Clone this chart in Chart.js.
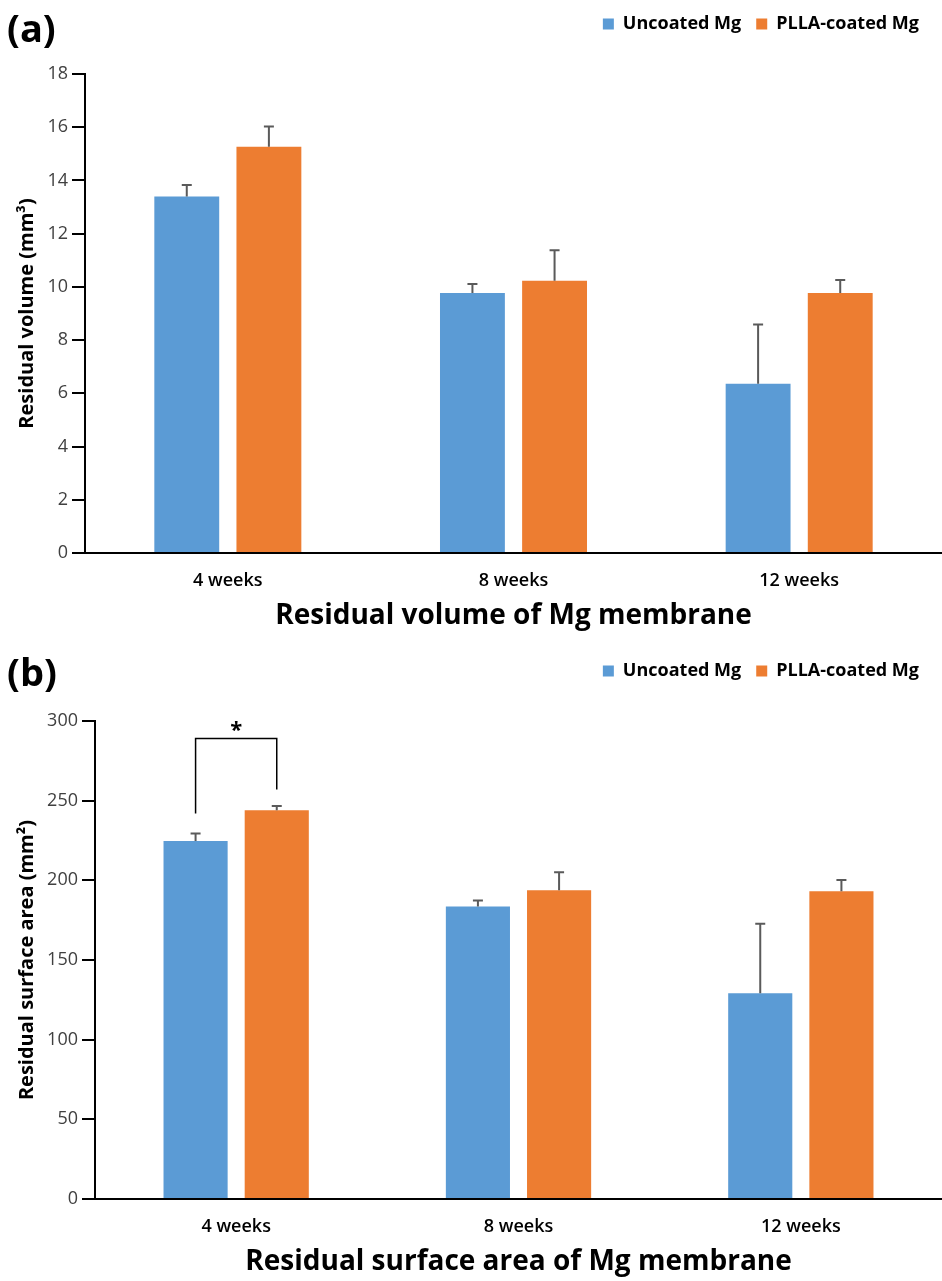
<!DOCTYPE html>
<html>
<head>
<meta charset="utf-8">
<script src="https://cdn.jsdelivr.net/npm/chart.js@4.4.1/dist/chart.umd.min.js"></script>
<style>
body { margin: 0; background: #fff; width: 942px; height: 1281px; overflow: hidden; position: relative; font-family: 'Open Sans', sans-serif; }
.panel { position: absolute; left: 0; width: 942px; }
.etiqueta { position: absolute; left: 7px; font-weight: 700; font-size: 38px; line-height: 1; color: #000; z-index: 2; }
</style>
</head>
<body>
<div class="panel" style="top:0;height:640px"><canvas id="grafico-volumen"></canvas></div>
<div class="panel" style="top:641px;height:640px"><canvas id="grafico-superficie"></canvas></div>
<div class="etiqueta" style="top:8px">(a)</div>
<div class="etiqueta" style="top:652px">(b)</div>
<script>
const semanas = ['4 weeks', '8 weeks', '12 weeks'];
const series = ['Uncoated Mg', 'PLLA-coated Mg'];

const volumenSinRecubrir = [13.4, 9.77, 6.36];
const volumenSinRecubrirDE = [0.43, 0.34, 2.23];
const volumenPLLA = [15.27, 10.23, 9.77];
const volumenPLLADE = [0.76, 1.15, 0.49];
const ticksVolumen = [0, 2, 4, 6, 8, 10, 12, 14, 16, 18];

const superficieSinRecubrir = [224.7, 183.6, 129.1];
const superficieSinRecubrirDE = [4.7, 3.8, 43.7];
const superficiePLLA = [244.0, 193.7, 193.1];
const superficiePLLADE = [2.7, 11.3, 7.1];
const ticksSuperficie = [0, 50, 100, 150, 200, 250, 300];

const AZUL = '#5B9BD5';
const NARANJA = '#ED7D31';

Chart.defaults.font.family = "'Open Sans', sans-serif";
Chart.defaults.color = '#000';
Chart.defaults.animation = false;

// barras de error (solo hacia arriba)
const barrasError = {
    id: 'barrasError',
    afterDatasetsDraw(chart) {
        const { ctx, scales: { y } } = chart;
        ctx.save();
        ctx.strokeStyle = '#5a5a5a';
        ctx.lineWidth = 2;
        chart.data.datasets.forEach((ds, i) => {
            chart.getDatasetMeta(i).data.forEach((barra, j) => {
                const arriba = y.getPixelForValue(ds.data[j] + ds.errores[j]);
                ctx.beginPath();
                ctx.moveTo(barra.x, barra.y);
                ctx.lineTo(barra.x, arriba);
                ctx.moveTo(barra.x - 5, arriba);
                ctx.lineTo(barra.x + 5, arriba);
                ctx.stroke();
            });
        });
        ctx.restore();
    }
};

// corchete de significancia
const corchete = {
    id: 'corchete',
    afterDatasetsDraw(chart, args, opts) {
        if (!opts || opts.grupo === undefined) return;
        const { ctx, scales: { y } } = chart;
        const xIzq = chart.getDatasetMeta(0).data[opts.grupo].x;
        const xDer = chart.getDatasetMeta(1).data[opts.grupo].x;
        const yTope = y.getPixelForValue(opts.alto);
        ctx.save();
        ctx.strokeStyle = '#000';
        ctx.lineWidth = 1.5;
        ctx.beginPath();
        ctx.moveTo(xIzq, y.getPixelForValue(opts.izq));
        ctx.lineTo(xIzq, yTope);
        ctx.lineTo(xDer, yTope);
        ctx.lineTo(xDer, y.getPixelForValue(opts.der));
        ctx.stroke();
        ctx.font = "bold 22px 'Open Sans', sans-serif";
        ctx.textAlign = 'center';
        ctx.textBaseline = 'alphabetic';
        ctx.fillStyle = '#000';
        ctx.fillText(opts.texto, (xIzq + xDer) / 2, yTope - 2);
        ctx.restore();
    }
};

const ajusteLeyenda = {
    id: 'ajusteLeyenda',
    beforeInit(chart) {
        const fitOriginal = chart.legend.fit;
        chart.legend.fit = function () {
            fitOriginal.call(this);
            this.height += 31;
        };
    },
    afterLayout(chart) {
        chart.legend.right -= 8;
    }
};

function crearGrafico(id, cfg) {
    const ctx = document.getElementById(id);
    return new Chart(ctx, {
        type: 'bar',
        data: {
            labels: semanas,
            datasets: [
                { label: series[0], data: cfg.sinRecubrir, errores: cfg.sinRecubrirDE, backgroundColor: AZUL, borderWidth: 0 },
                { label: series[1], data: cfg.plla, errores: cfg.pllaDE, backgroundColor: NARANJA, borderWidth: 0 }
            ]
        },
        options: {
            responsive: true,
            maintainAspectRatio: false,
            categoryPercentage: 0.575,
            barPercentage: 0.79,
            layout: { padding: { top: cfg.padTop, bottom: cfg.padBottom, left: 0, right: 0 } },
            plugins: {
                legend: {
                    position: 'top',
                    align: 'end',
                    labels: {
                        boxWidth: 11,
                        boxHeight: 11,
                        padding: 15,
                        color: '#000',
                        font: { size: 18, weight: 'bold' }
                    }
                },
                tooltip: { enabled: false },
                corchete: cfg.corchete || {}
            },
            scales: {
                x: {
                    grid: { display: false, drawTicks: false },
                    border: { display: true, color: '#000', width: 2 },
                    ticks: { color: '#000', padding: 17, font: { size: 18, weight: '600' } },
                    title: { display: true, text: cfg.tituloX, color: '#000', padding: 0, font: { size: 28, weight: 'bold' } },
                    afterFit: (s) => { s.height = 80; }
                },
                y: {
                    min: 0,
                    max: cfg.ticks[cfg.ticks.length - 1],
                    afterBuildTicks: (s) => { s.ticks = cfg.ticks.map(v => ({ value: v })); },
                    grid: { display: true, drawOnChartArea: false, drawTicks: true, tickLength: 13, color: '#000', lineWidth: 2 },
                    border: { display: true, color: '#000', width: 2 },
                    ticks: { color: '#404040', padding: 4, font: { size: 18 } },
                    title: { display: true, text: cfg.tituloY, color: '#000', padding: { top: 15, bottom: 0 }, font: { size: 20, weight: 'bold' } },
                    afterFit: (s) => { s.width = cfg.anchoY; }
                }
            }
        },
        plugins: [barrasError, corchete, ajusteLeyenda]
    });
}

crearGrafico('grafico-volumen', {
    sinRecubrir: volumenSinRecubrir,
    sinRecubrirDE: volumenSinRecubrirDE,
    plla: volumenPLLA,
    pllaDE: volumenPLLADE,
    ticks: ticksVolumen,
    tituloX: 'Residual volume of Mg membrane',
    tituloY: 'Residual volume (mm³)',
    anchoY: 85,
    padTop: 0,
    padBottom: 7
});

crearGrafico('grafico-superficie', {
    sinRecubrir: superficieSinRecubrir,
    sinRecubrirDE: superficieSinRecubrirDE,
    plla: superficiePLLA,
    pllaDE: superficiePLLADE,
    ticks: ticksSuperficie,
    tituloX: 'Residual surface area of Mg membrane',
    tituloY: 'Residual surface area (mm²)',
    anchoY: 95,
    padTop: 6,
    padBottom: 2,
    corchete: { grupo: 0, alto: 289, izq: 242, der: 257, texto: '*' }
});
</script>
</body>
</html>
